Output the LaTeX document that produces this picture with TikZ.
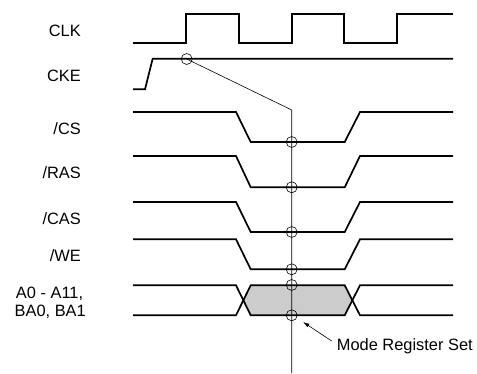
\documentclass[tikz,border=0pt]{standalone}
\usepackage{fontspec}
\setmainfont{Liberation Sans}
\usetikzlibrary{arrows.meta}
\begin{document}
\begin{tikzpicture}[x=1pt,y=-1pt,
  sig/.style={line width=1.7pt, line join=miter},
  probe/.style={line width=0.6pt},
  lbl/.style={anchor=base east, inner sep=0pt, font=\fontsize{16.4}{19}\selectfont},
  ring/.style={circle, draw, line width=0.6pt, minimum size=11pt, inner sep=0pt}]
\useasboundingbox (0,0) rectangle (477,374);
% labels
\node[lbl] (lclk) at (81,36.7) {CLK};
\node[lbl] (lcke) at (81,81.7) {CKE};
\node[lbl] (lcs) at (81,135) {/CS};
\node[lbl] (lras) at (81,179) {/RAS};
\node[lbl] (lcas) at (81,224.7) {/CAS};
\node[lbl] (lwe) at (81,261.7) {/WE};
\node[lbl] (la1) at (83.3,298.3) {A0 - A11,};
\node[lbl] (la2) at (86,316.7) {BA0, BA1};
% CLK
\draw[sig] (133,43.3) -- (185.7,43.3) -- (185.7,14) -- (238.7,14) -- (238.7,43.3) -- (291.7,43.3) -- (291.7,14) -- (344,14) -- (344,43.3) -- (397.3,43.3) -- (397.3,14) -- (453,14);
% CKE
\draw[sig] (133,89.3) -- (145,89.3) -- (152.7,58.7) -- (453,58.7);
% active-low commands
\foreach \yh/\yl in {112/142, 156/187.3, 202/232, 239.3/269.3}{
  \draw[sig] (133,\yh) -- (236,\yh) -- (250.7,\yl) -- (344.7,\yl) -- (360,\yh) -- (453,\yh);
}
% bus
\fill[gray!40] (243.3,300.3) -- (250.7,285.3) -- (344.7,285.3) -- (352.3,300.3) -- (344.7,315.3) -- (250.7,315.3) -- cycle;
\draw[sig] (133,285.3) -- (236,285.3) -- (250.7,315.3) -- (344.7,315.3) -- (360,285.3) -- (453,285.3);
\draw[sig] (133,315.3) -- (236,315.3) -- (250.7,285.3) -- (344.7,285.3) -- (360,315.3) -- (453,315.3);
% rings
\node[ring] (c0) at (186.7,59) {};
\node[ring] (c1) at (291.7,142) {};
\node[ring] (c2) at (291.7,187.3) {};
\node[ring] (c3) at (291.7,232) {};
\node[ring] (c4) at (291.7,269.3) {};
\node[ring] (c5) at (291.7,285) {};
\node[ring] (c6) at (291.7,315.3) {};
\coordinate (bend) at (291.7,110);
\coordinate (bottom) at (291.7,373);
\draw[probe] (c0.center) -- (bend) -- (bottom);
% annotation
\node[anchor=base west, inner sep=0pt, font=\fontsize{16.4}{19}\selectfont] (mrs) at (336.7,350.5) {Mode Register Set};
\coordinate (tail) at (331.7,341);
\coordinate (tip) at (303,322);
\draw[probe, -{Latex[length=6.5pt,width=4pt]}] (tail) -- (tip);
\end{tikzpicture}
\end{document}
